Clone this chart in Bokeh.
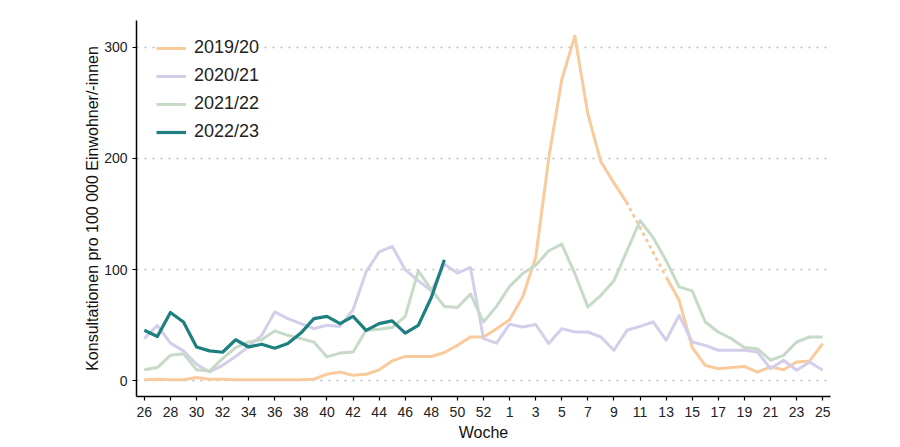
import math
from bokeh.plotting import figure
from bokeh.models import FixedTicker, Range1d, Legend, LegendItem
from bokeh.embed import file_html
from bokeh.resources import INLINE

NaN = float("nan")

# Calendar weeks (season runs week 26 -> week 25, with week 53 slot)
weeks = list(range(26, 54)) + list(range(1, 26))
tick_labels = [str(w) for w in weeks]

seasons = ["2019/20", "2020/21", "2021/22", "2022/23"]
colors = ["#F9CB9C", "#D3CEEA", "#C7DAC7", "#1E7F80"]

s2019 = [1, 1.5, 1, 1, 3, 1.5, 1.5, 1, 1, 1, 1, 1, 1, 1.5,
         6, 8, 5, 6, 10, 18, 22, 22, 22, 25.5, 32, 39.5, 39.5, 47,
         55, 75.5, 111, 200, 271, 310, 240, 197, 178, 160, NaN, NaN,
         93.5, 72.5, 30, 14, 11, 12, 13, 8, 12.6, 10, 17, 18, 33.6]
s2020 = [38, 50, 34, 27, 15, 8, 14, 22, 31, 41, 62, 56, 51.5, 47, 50, 49,
         64, 98, 116, 121, 100, 90, 81, 105, 97, 102, 38, 34, 51, 48.5,
         50.7, 33.6, 47, 44, 44, 39.5, 27.6, 45.5, 49, 53, 36.6, 59, 35,
         32, 27.6, 27.6, 27.6, 26, 11, 18.6, 9.6, 17, 9.6]
s2021 = [10, 12, 23, 24.5, 10, 9, 20, 30, 35, 37, 45, 41, 38, 35, 21.6, 25,
         26, 45.5, 46.5, 48, 58, 99, 82, 67, 66, 78, 53, 67, 85, 96.5, 104,
         117, 123, 96.5, 66.5, 77, 90, 117, 144, 129, 108, 84.5, 81, 53, 44,
         38, 30, 29, 18.6, 23, 35, 39.5, 39.5]
s2022 = [45.5, 40, 61.5, 53, 30.5, 27, 25.8, 37, 30.5, 33, 29.4, 33.6, 43,
         56, 58, 51.5, 58, 45.5, 51.5, 54, 43, 50, 75, 109]

FONT = "Liberation Sans"

xs = list(range(len(weeks)))

p = figure(frame_width=694, frame_height=376,
           x_range=Range1d(-0.6, len(weeks) - 0.4),
           y_range=Range1d(-14, 324),
           output_backend="svg", toolbar_location=None,
           min_border_left=136, min_border_right=50,
           min_border_top=20, min_border_bottom=48,
           background_fill_color="white", border_fill_color="white")
p.outline_line_color = None

p.xgrid.visible = False
p.ygrid.grid_line_color = "#BBBBBB"
p.ygrid.grid_line_dash = "2 6"
p.ygrid.grid_line_width = 1.5

tick_pos = list(range(0, len(weeks), 2))
p.xaxis.ticker = FixedTicker(ticks=tick_pos)
p.xaxis.major_label_overrides = {i: tick_labels[i] for i in tick_pos}
p.yaxis.ticker = FixedTicker(ticks=[0, 100, 200, 300])

for ax in (p.xaxis, p.yaxis):
    ax.axis_line_color = "black"
    ax.axis_line_width = 1.5
    ax.major_tick_line_color = "black"
    ax.major_tick_line_width = 1.2
    ax.major_tick_out = 4
    ax.major_tick_in = 0
    ax.minor_tick_line_color = None
    ax.major_label_text_font = FONT
    ax.major_label_text_font_size = "14px"
    ax.major_label_text_color = "#222222"
    ax.axis_label_text_font = FONT
    ax.axis_label_text_font_size = "16px"
    ax.axis_label_text_font_style = "normal"
    ax.axis_label_text_color = "#111111"

p.xaxis.axis_label = "Woche"
p.yaxis.axis_label = "Konsultationen pro 100 000 Einwohner/-innen"
p.xaxis.major_label_standoff = 6
p.xaxis.axis_label_standoff = 4
p.yaxis.major_label_standoff = 5
p.yaxis.axis_label_standoff = 0

items = []
# 2019/20 with gap (dotted bridge over missing weeks)
r0 = p.line(xs, s2019, line_color=colors[0], line_width=3, line_join="round")
gap_start = 37
gap_end = 40
p.line([gap_start, gap_end], [s2019[gap_start], s2019[gap_end]],
       line_color=colors[0], line_width=3, line_dash="1 6", line_cap="round")
items.append(LegendItem(label=seasons[0], renderers=[r0]))

r1 = p.line(xs, s2020, line_color=colors[1], line_width=3, line_join="round")
items.append(LegendItem(label=seasons[1], renderers=[r1]))
r2 = p.line(xs, s2021, line_color=colors[2], line_width=3, line_join="round")
items.append(LegendItem(label=seasons[2], renderers=[r2]))
r3 = p.line(xs[:len(s2022)], s2022, line_color=colors[3], line_width=3.2,
            line_join="round")
items.append(LegendItem(label=seasons[3], renderers=[r3]))

legend = Legend(items=items, location=(20, 254))
legend.label_text_font = FONT
legend.label_text_font_size = "18px"
legend.label_text_color = "#222222"
legend.glyph_width = 30
legend.glyph_height = 20
legend.spacing = 7
legend.padding = 0
legend.margin = 0
legend.label_standoff = 8
legend.border_line_color = None
legend.background_fill_color = "white"
legend.background_fill_alpha = 1.0
p.add_layout(legend)

open("out.html", "w").write(file_html(p, INLINE))
